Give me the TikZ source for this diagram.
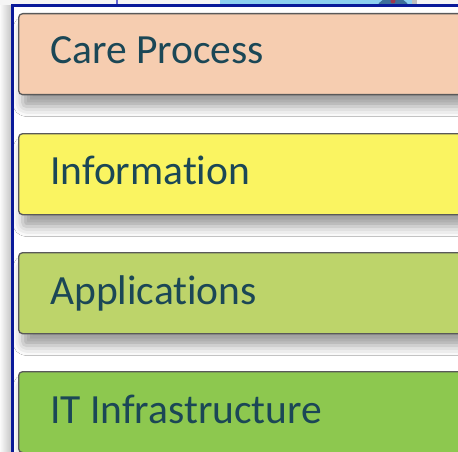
\documentclass[tikz,border=0pt]{standalone}
\usepackage{fontspec}
\setmainfont{Carlito}[RawFeature={-liga}]
\usetikzlibrary{shadows.blur}
\definecolor{framblue}{HTML}{0A1A9A}
\definecolor{txtcol}{HTML}{1B4756}
\definecolor{careC}{HTML}{F6CDB0}
\definecolor{infoC}{HTML}{FAF461}
\definecolor{appC}{HTML}{BDD46A}
\definecolor{itC}{HTML}{8DC84F}
\definecolor{skyC}{HTML}{8DD0F0}
\definecolor{discC}{HTML}{3D6E9A}
\tikzset{
  layer/.style={draw=black!65, line width=1.3pt, rounded corners=4pt,
    minimum width=460pt, minimum height=81pt, anchor=north west,
    inner sep=0pt,
    blur shadow={shadow xshift=4pt, shadow yshift=-12pt, shadow blur radius=10pt, shadow opacity=38}},
  layertext/.style={text=txtcol, font=\fontsize{41.5}{48}\selectfont, anchor=base west, inner sep=0pt}
}
\begin{document}
\begin{tikzpicture}[x=1pt,y=1pt]
\useasboundingbox (0,0) rectangle (458,-452);
\begin{scope}
\clip (0,0) rectangle (458,-452);
% background above frame
\fill[black!4] (0,0) rectangle (458,-452);
\fill[skyC] (220,0) rectangle (412,-8);
\fill[discC] (393,-16) circle (19);
\fill[red!50!discC] (393,-1) circle (2.5);
\fill[black!25] (412,0) rectangle (417,-8);
\draw[color=black!30!blue!60, line width=2pt] (117,0) -- (117,-8);
% frame shadow to the left
\shade[left color=black!2, right color=black!22] (0,-6) rectangle (11,-452);
% frame interior
\fill[white] (12,-6) rectangle (470,-470);
\draw[framblue, line width=3pt] (12,-470) -- (12,-6) -- (470,-6);
% layers
\node[layer, fill=careC] (care) at (18,-13) {};
\node[layer, fill=infoC] (info) at (18,-133) {};
\node[layer, fill=appC]  (app)  at (18,-252) {};
\node[layer, fill=itC]   (it)   at (18,-371) {};
\node[layertext] (careT) at (50,-64) {Care Process};
\node[layertext] (infoT) at (50,-184) {Information};
\node[layertext] (appT)  at (50,-304) {Applications};
\node[layertext] (itT)   at (50,-423) {IT Infrastructure};
\end{scope}
\end{tikzpicture}
\end{document}
